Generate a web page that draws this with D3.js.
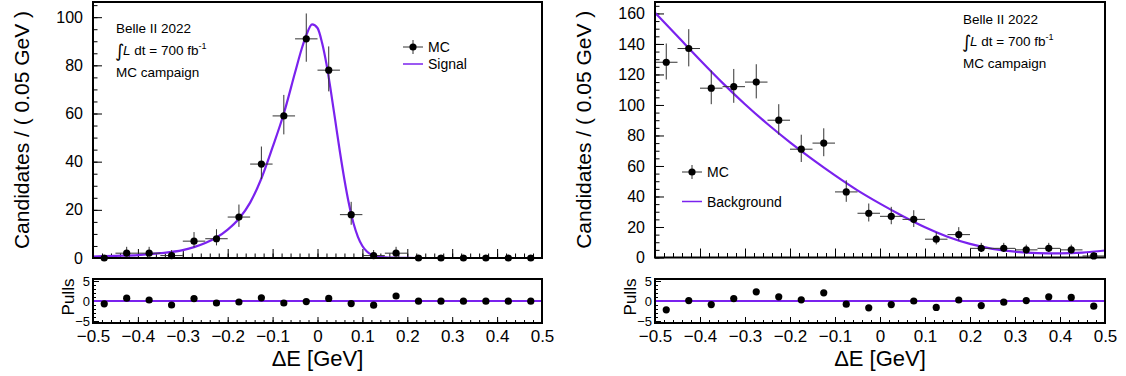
<!DOCTYPE html>
<html>
<head>
<meta charset="utf-8">
<script src="https://cdn.jsdelivr.net/npm/d3@7/dist/d3.min.js"></script>
<style>
  html, body { margin: 0; padding: 0; background: #fff; }
  svg { display: block; font-family: "Liberation Sans", Arial, sans-serif; }
</style>
</head>
<body>
<svg id="chart" width="1126" height="376"></svg>
<script>
// ---------------- data ----------------
const binCenters = [-0.475,-0.425,-0.375,-0.325,-0.275,-0.225,-0.175,-0.125,-0.075,-0.025,
                    0.025,0.075,0.125,0.175,0.225,0.275,0.325,0.375,0.425,0.475];
const binHalfWidth = 0.025;

// Signal MC (left)
const sigCounts  = [0,2,2,1,7,8,17,39,59,91,78,18,1,2,0,0,0,0,0,0];
const sigErrLow  = [0,1.29,1.29,0.83,2.58,2.77,4.08,6.22,7.67,9.51,8.81,4.20,0.83,1.29,0,0,0,0,0,0];
const sigErrHigh = [0,2.64,2.64,2.30,3.77,3.95,5.20,7.29,8.72,10.54,9.86,5.32,2.30,2.64,0,0,0,0,0,0];
const sigPulls   = [-0.7,0.7,0.25,-1.0,0.6,-0.5,-0.25,0.8,-0.5,-0.15,0.65,-0.65,-1.05,1.25,-0.05,-0.05,-0.05,-0.05,-0.05,-0.05];
const sigCurveX  = [-0.5,-0.45,-0.4,-0.35,-0.3,-0.275,-0.25,-0.225,-0.2,-0.175,-0.15,-0.125,-0.1,-0.075,-0.05,-0.035,-0.025,-0.012,0.0,0.01,0.02,0.03,0.04,0.05,0.06,0.07,0.08,0.09,0.1,0.11,0.12,0.135,0.15,0.175,0.2,0.25,0.5];
const sigCurveY  = [0.6,0.9,1.2,2.0,3.3,4.5,6.2,8.5,11.8,16.3,23.0,33.0,46.0,60.0,77.0,87.0,92.5,97.0,95.5,89.5,80.5,69.0,56.5,44.0,32.5,22.5,14.5,8.8,5.0,2.7,1.4,0.6,0.3,0.1,0.03,0,0];

// Background MC (right)
const bkgCounts  = [128,137,111,112,115,90,71,75,43,29,27,25,12,15,6,6,5,6,5,1];
const bkgErrLow  = [11.3,11.7,10.5,10.6,10.7,9.5,8.4,8.6,6.5,5.4,5.2,5.0,3.4,3.8,2.4,2.4,2.2,2.4,2.2,0.83];
const bkgErrHigh = [12.3,12.7,11.6,11.6,11.7,10.5,9.5,9.7,7.6,6.4,6.2,6.0,4.5,4.9,3.6,3.6,3.4,3.6,3.4,2.3];
const bkgPulls   = [-2.2,0.1,-0.9,0.6,2.3,1.05,0.3,2.05,-0.8,-1.7,-0.9,0.0,-1.6,0.25,-1.15,-0.3,0.1,1.05,0.9,-1.3];
const bkgCurveX  = [-0.5,-0.45,-0.4,-0.35,-0.3,-0.25,-0.2,-0.15,-0.1,-0.05,0.0,0.05,0.1,0.15,0.2,0.25,0.3,0.35,0.4,0.45,0.5];
const bkgCurveY  = [160.5,145,129.5,114.5,100.5,87.5,75.5,64.3,53.8,44,35.3,27.2,19.8,13.6,8.9,5.7,3.8,2.9,2.7,3.2,4.6];

// tick values / labels
const xMajorTicks = [-0.5,-0.4,-0.3,-0.2,-0.1,0,0.1,0.2,0.3,0.4,0.5];
const xMinorTicks = d3.range(-0.5, 0.5001, 0.02);
const sigYTicks = [0,20,40,60,80,100];
const bkgYTicks = [0,20,40,60,80,100,120,140,160];
const pullTicks = [-5,0,5];
const pullMinorTicks = [-5,-4,-3,-2,-1,0,1,2,3,4,5];

const yTitle = "Candidates / ( 0.05 GeV )";
const xTitle = "\u0394E [GeV]";
const pullTitle = "Pulls";
const labelLines = ["Belle II 2022", "MC campaign"];

// ---------------- drawing ----------------
const svg = d3.select("#chart");
svg.append("rect").attr("width",1126).attr("height",376).attr("fill","#fff");
const curveColor = "#7a22ee";

function fmtX(d){ return Math.abs(d) < 1e-9 ? "0" : d3.format(".1f")(d); }

function panel(cfg){
  const g = svg.append("g");
  const x = d3.scaleLinear().domain([-0.5,0.5]).range([cfg.x0, cfg.x1]);
  const y = d3.scaleLinear().domain([0, cfg.yMax]).range([cfg.yBot, cfg.yTop]);
  const yp = d3.scaleLinear().domain([-5.5,5.5]).range([cfg.pBot, cfg.pTop]);

  const clipId = "clip" + cfg.id;
  svg.append("clipPath").attr("id", clipId).append("rect")
    .attr("x", cfg.x0).attr("y", cfg.yTop).attr("width", cfg.x1-cfg.x0).attr("height", cfg.yBot-cfg.yTop);

  // ---- top axes ----
  const yMinor = d3.range(0, cfg.yMax, 5);
  g.append("g").attr("transform",`translate(${cfg.x0},0)`)
    .call(d3.axisLeft(y).tickValues(yMinor).tickSizeInner(-4.5).tickSizeOuter(0).tickFormat(""));
  g.append("g").attr("transform",`translate(${cfg.x0},0)`)
    .call(d3.axisLeft(y).tickValues(cfg.yTicks).tickSizeInner(-9).tickSizeOuter(0).tickPadding(10))
    .call(a => a.selectAll("text").attr("font-size",16).attr("fill","#000").attr("font-family","Liberation Sans, Arial, sans-serif"));
  g.append("g").attr("transform",`translate(0,${cfg.yBot})`)
    .call(d3.axisBottom(x).tickValues(xMinorTicks).tickSizeInner(-4.5).tickSizeOuter(0).tickFormat(""));
  g.append("g").attr("transform",`translate(0,${cfg.yBot})`)
    .call(d3.axisBottom(x).tickValues(xMajorTicks).tickSizeInner(-9).tickSizeOuter(0).tickFormat(""));

  // ---- pull axes ----
  g.append("g").attr("transform",`translate(${cfg.x0},0)`)
    .call(d3.axisLeft(yp).tickValues(pullMinorTicks).tickSizeInner(-3).tickSizeOuter(0).tickFormat(""));
  g.append("g").attr("transform",`translate(${cfg.x0},0)`)
    .call(d3.axisLeft(yp).tickValues(pullTicks).tickSizeInner(-6).tickSizeOuter(0).tickPadding(3))
    .call(a => a.selectAll("text").attr("font-size",13).attr("fill","#000").attr("font-family","Liberation Sans, Arial, sans-serif"));
  g.append("g").attr("transform",`translate(0,${cfg.pBot})`)
    .call(d3.axisBottom(x).tickValues(xMinorTicks).tickSizeInner(-3).tickSizeOuter(0).tickFormat(""));
  g.append("g").attr("transform",`translate(0,${cfg.pBot})`)
    .call(d3.axisBottom(x).tickValues(xMajorTicks).tickSizeInner(-6).tickSizeOuter(0).tickPadding(7).tickFormat(fmtX))
    .call(a => a.selectAll("text").attr("font-size",17).attr("fill","#000").attr("font-family","Liberation Sans, Arial, sans-serif"));

  g.selectAll(".domain").remove();
  g.selectAll(".tick line").attr("stroke","#000").attr("stroke-width",1);

  // ---- curve ----
  const line = d3.line().x((d,i)=>x(cfg.curveX[i])).y(d=>y(d)).curve(d3.curveMonotoneX);
  g.append("path").datum(cfg.curveY).attr("d", line)
    .attr("fill","none").attr("stroke",curveColor).attr("stroke-width",2.2)
    .attr("clip-path",`url(#${clipId})`);

  // ---- data points ----
  const pts = binCenters.map((c,i)=>({c, n:cfg.counts[i], lo:cfg.errLow[i], hi:cfg.errHigh[i], p:cfg.pulls[i]}));
  const pg = g.append("g");
  pg.selectAll("line.h").data(pts).join("line")
    .attr("x1",d=>x(d.c-binHalfWidth)).attr("x2",d=>x(d.c+binHalfWidth))
    .attr("y1",d=>y(d.n)).attr("y2",d=>y(d.n))
    .attr("stroke","#333").attr("stroke-width",1);
  pg.selectAll("line.v").data(pts.filter(d=>d.hi>0)).join("line")
    .attr("x1",d=>x(d.c)).attr("x2",d=>x(d.c))
    .attr("y1",d=>y(d.n-d.lo)).attr("y2",d=>y(d.n+d.hi))
    .attr("stroke","#333").attr("stroke-width",1);
  pg.selectAll("circle").data(pts).join("circle")
    .attr("cx",d=>x(d.c)).attr("cy",d=>y(d.n)).attr("r",3.6).attr("fill","#000");

  // ---- pulls ----
  g.append("line").attr("x1",cfg.x0).attr("x2",cfg.x1).attr("y1",yp(0)).attr("y2",yp(0))
    .attr("stroke",curveColor).attr("stroke-width",2);
  g.append("g").selectAll("circle").data(pts).join("circle")
    .attr("cx",d=>x(d.c)).attr("cy",d=>yp(d.p)).attr("r",3.6).attr("fill","#000");

  // ---- frames ----
  g.append("rect").attr("x",cfg.x0).attr("y",cfg.yTop).attr("width",cfg.x1-cfg.x0).attr("height",cfg.yBot-cfg.yTop)
    .attr("fill","none").attr("stroke","#000").attr("stroke-width",2);
  g.append("rect").attr("x",cfg.x0).attr("y",cfg.pTop).attr("width",cfg.x1-cfg.x0).attr("height",cfg.pBot-cfg.pTop)
    .attr("fill","none").attr("stroke","#000").attr("stroke-width",2);

  // ---- titles ----
  g.append("text").attr("transform",`translate(${cfg.x0-64},${(cfg.yTop+cfg.yBot)/2}) rotate(-90)`)
    .attr("text-anchor","middle").attr("font-size",21).text(yTitle);
  g.append("text").attr("transform",`translate(${cfg.x0-19},${(cfg.pTop+cfg.pBot)/2-4}) rotate(-90)`)
    .attr("text-anchor","middle").attr("font-size",17).text(pullTitle);
  g.append("text").attr("x",(cfg.x0+cfg.x1)/2).attr("y",366)
    .attr("text-anchor","middle").attr("font-size",22).text(xTitle);

  // ---- Belle II label ----
  const lx = cfg.labelX, ly = cfg.labelY;
  g.append("text").attr("x",lx).attr("y",ly).attr("font-size",13.5).text(labelLines[0]);
  g.append("text").attr("x",lx-1).attr("y",ly+24).attr("font-size",18)
    .attr("font-family","DejaVu Sans").text("\u222B");
  const t = g.append("text").attr("x",lx+7).attr("y",ly+22).attr("font-size",13.5);
  t.append("tspan").attr("font-style","italic").text("L");
  t.append("tspan").text(" dt = 700 fb");
  t.append("tspan").attr("font-size",9).attr("dy",-6).text("-1");
  g.append("text").attr("x",lx).attr("y",ly+44).attr("font-size",13.5).text(labelLines[1]);

  // ---- legend ----
  const L = cfg.legend;
  g.append("line").attr("x1",L.x-10).attr("x2",L.x+10).attr("y1",L.y1).attr("y2",L.y1).attr("stroke","#333");
  g.append("line").attr("x1",L.x).attr("x2",L.x).attr("y1",L.y1-7).attr("y2",L.y1+7).attr("stroke","#333");
  g.append("circle").attr("cx",L.x).attr("cy",L.y1).attr("r",3.6).attr("fill","#000");
  g.append("text").attr("x",L.x+15).attr("y",L.y1+5).attr("font-size",14).text("MC");
  g.append("line").attr("x1",L.x-10).attr("x2",L.x+10).attr("y1",L.y2).attr("y2",L.y2)
    .attr("stroke",curveColor).attr("stroke-width",1.5);
  g.append("text").attr("x",L.x+15).attr("y",L.y2+5).attr("font-size",14).text(cfg.curveName);
}

panel({id:"L", x0:93, x1:542, yTop:2, yBot:258, yMax:106.3, pTop:279, pBot:323,
  yTicks:sigYTicks, counts:sigCounts, errLow:sigErrLow, errHigh:sigErrHigh, pulls:sigPulls,
  curveX:sigCurveX, curveY:sigCurveY, curveName:"Signal",
  labelX:116, labelY:33, legend:{x:413, y1:47, y2:64}});

panel({id:"R", x0:655, x1:1105, yTop:2, yBot:257.5, yMax:167.5, pTop:279, pBot:323,
  yTicks:bkgYTicks, counts:bkgCounts, errLow:bkgErrLow, errHigh:bkgErrHigh, pulls:bkgPulls,
  curveX:bkgCurveX, curveY:bkgCurveY, curveName:"Background",
  labelX:963, labelY:24, legend:{x:692, y1:172, y2:201.5}});
</script>
</body>
</html>
